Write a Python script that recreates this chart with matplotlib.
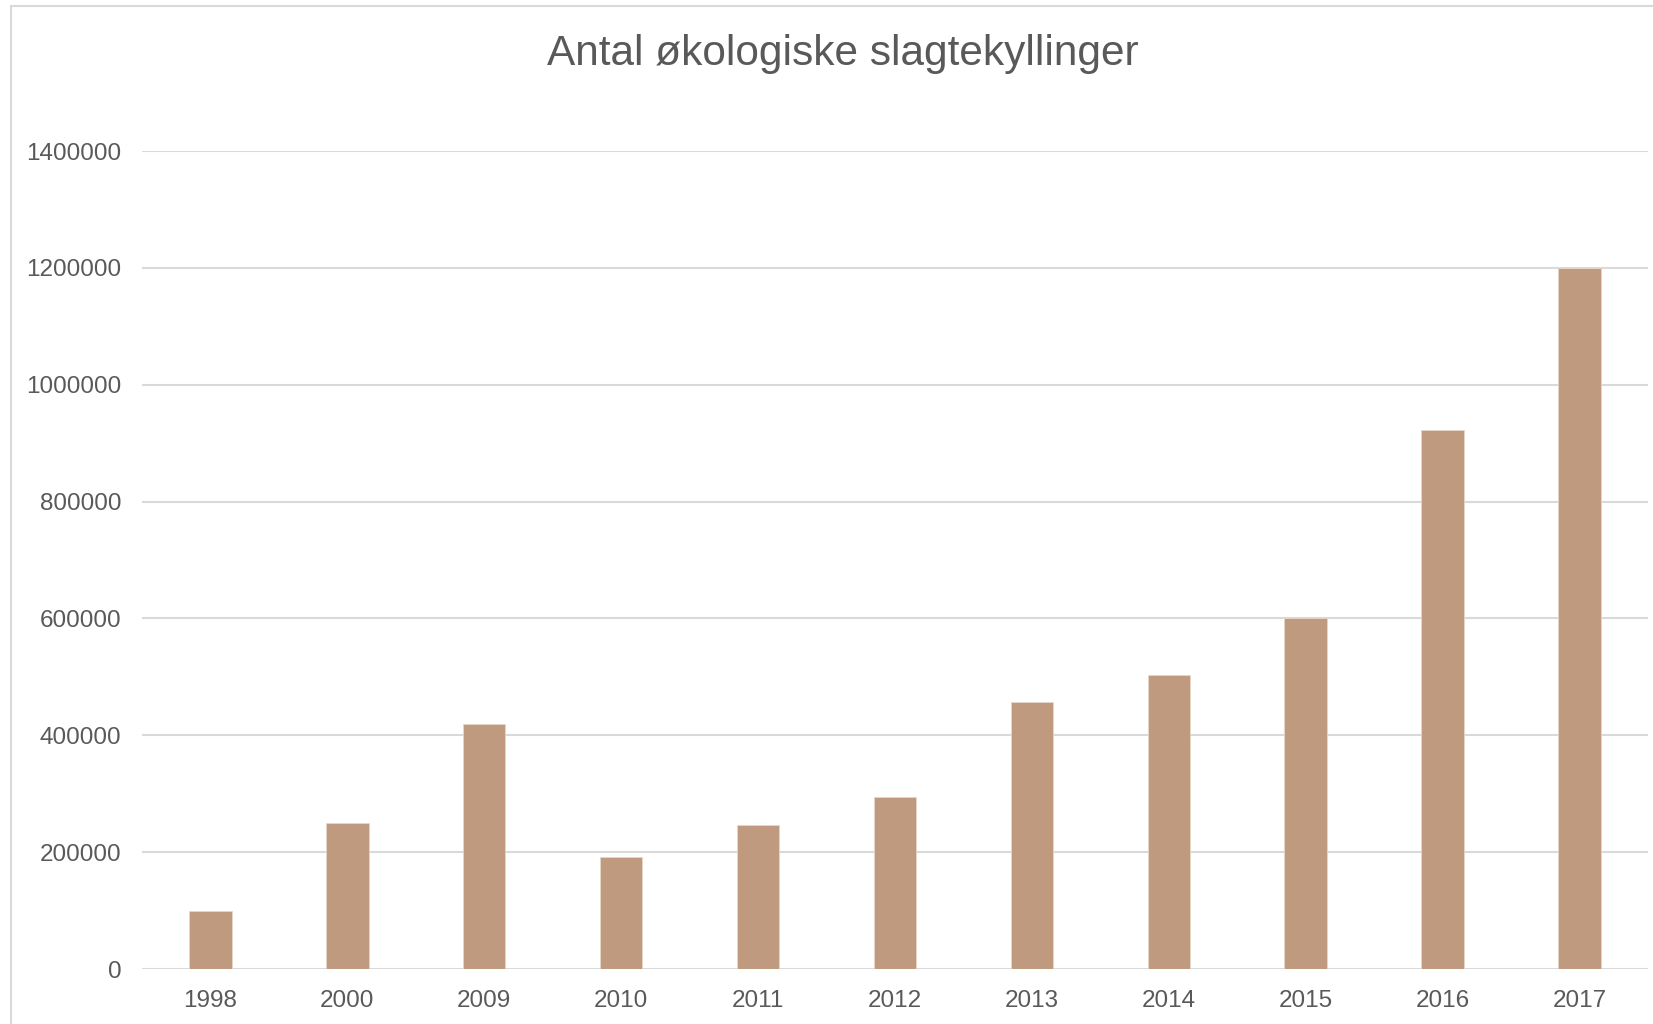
#!/usr/bin/env python3
import matplotlib
matplotlib.use("Agg")
import matplotlib.pyplot as plt
from matplotlib.patches import Rectangle

years = ["1998", "2000", "2009", "2010", "2011", "2012", "2013", "2014", "2015", "2016", "2017"]
chickens = [100000, 250000, 420000, 192000, 247000, 295000, 457000, 503000, 600000, 922000, 1200000]
yticks = [0, 200000, 400000, 600000, 800000, 1000000, 1200000, 1400000]

title = "Antal økologiske slagtekyllinger"
bar_color = "#BF9A7E"
text_color = "#595959"
grid_color = "#D9D9D9"


def main():
    plt.rcParams["font.family"] = ["Liberation Sans", "DejaVu Sans"]
    fig = plt.figure(figsize=(16.53, 10.24), dpi=100)
    ax = fig.add_axes([0.0859, 0.0537, 0.911, 0.7988])

    # chart area border (only left and top are visible in the crop)
    fig.patches.append(Rectangle((11 / 1653, -0.1), 1.2, 1.1 - 6 / 1024,
                                 transform=fig.transFigure, fill=False,
                                 edgecolor=grid_color, linewidth=1.5))

    x = range(len(years))
    ax.bar(x, chickens, width=0.31, color=bar_color, edgecolor="#E6D7CB",
           linewidth=0.6, zorder=3)

    ax.set_xlim(-0.5, len(years) - 0.5)
    ax.set_ylim(0, 1400000)
    ax.set_yticks(yticks)
    ax.set_yticklabels([str(v) for v in yticks])
    ax.set_xticks(list(x))
    ax.set_xticklabels(years)
    ax.yaxis.grid(True, color=grid_color, linewidth=1.5, zorder=0)
    ax.set_axisbelow(True)
    for s in ax.spines.values():
        s.set_visible(False)
    ax.tick_params(axis="both", length=0, labelsize=17.5, colors=text_color)
    ax.tick_params(axis="y", pad=15)
    ax.tick_params(axis="x", pad=15)

    fig.text(0.51, 0.947, title, ha="center", va="center", fontsize=30.5,
             color=text_color)

    plt.savefig("out.png", dpi=100)


if __name__ == "__main__":
    main()
